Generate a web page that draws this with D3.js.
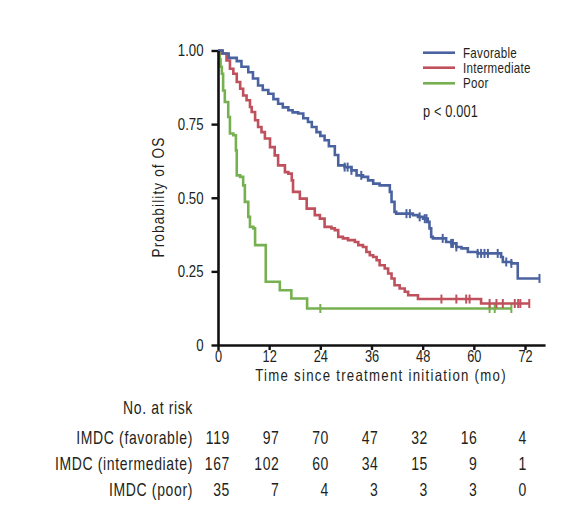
<!DOCTYPE html>
<html>
<head>
<meta charset="utf-8">
<script src="https://cdn.jsdelivr.net/npm/d3@7"></script>
<style>
  html, body { margin: 0; padding: 0; background: #fff; }
  svg { display: block; }
  text { font-family: "Liberation Sans", Arial, sans-serif; fill: #231f20; }
</style>
</head>
<body>
<svg id="chart" width="574" height="516"></svg>
<script>
// ---- Data (months, survival probability) ----
const seriesNames = ["Favorable", "Intermediate", "Poor"];

const favorableSteps = [[0,1],[1.1,0.99],[2.5,0.975],[4.4,0.964],[5.5,0.945],[7.1,0.926],[8.2,0.905],[9.4,0.881],[10.5,0.866],[11.8,0.853],[13,0.835],[14.1,0.819],[15.2,0.807],[16.5,0.797],[17.5,0.79],[18.8,0.786],[20,0.77],[21.1,0.757],[22,0.74],[23.1,0.723],[24,0.71],[25,0.695],[26,0.675],[27.4,0.645],[28.2,0.61],[29.7,0.604],[31.3,0.593],[32.5,0.576],[34,0.571],[35.2,0.559],[36.4,0.548],[37.9,0.542],[40.3,0.52],[40.7,0.486],[41.4,0.452],[41.8,0.446],[45.7,0.441],[46.9,0.435],[48.1,0.429],[49.2,0.418],[49.6,0.396],[50,0.367],[50.4,0.362],[53.5,0.35],[54.7,0.345],[55.9,0.333],[57.1,0.328],[58.6,0.316],[60.9,0.311],[66.4,0.299],[66.8,0.282],[68.8,0.277],[70.3,0.226]];
const favorableEnd = 75.4;
const favorableCensors = [29.7,30.4,31.3,33.6,44.2,45.0,47.3,48.5,48.9,52.7,54.7,55.1,55.9,60.9,61.7,62.5,63.3,65.6,67.6,68.8,75.4];

const intermediateSteps = [[0,1],[0.9,0.99],[2.0,0.966],[2.8,0.938],[3.6,0.921],[4.4,0.893],[5.2,0.870],[5.9,0.847],[6.7,0.831],[7.5,0.808],[7.9,0.791],[8.7,0.763],[9.4,0.740],[10.2,0.723],[11.0,0.701],[12.2,0.672],[13.3,0.644],[14.1,0.61],[15.7,0.587],[16.5,0.582],[17.3,0.559],[17.6,0.52],[19.2,0.497],[20.8,0.463],[22.7,0.441],[23.9,0.429],[25.0,0.401],[26.6,0.396],[27.4,0.39],[28.2,0.367],[29.3,0.362],[30.5,0.356],[32.1,0.35],[32.9,0.339],[34.0,0.333],[34.8,0.316],[35.6,0.305],[36.4,0.299],[37.2,0.288],[37.9,0.271],[39.1,0.26],[39.9,0.243],[40.7,0.226],[41.4,0.203],[42.6,0.192],[43.8,0.181],[44.6,0.169],[46.9,0.156],[61.7,0.141]];
const intermediateEnd = 73.0;
const intermediateCensors = [52.4,55.9,58.2,59.0,63.7,65.3,66.8,69.6,70.4,70.9,73.0];

const poorSteps = [[0,1],[0.4,0.97],[0.6,0.945],[0.9,0.921],[1.2,0.864],[1.6,0.825],[2.4,0.774],[2.8,0.718],[3.6,0.712],[4.2,0.661],[4.4,0.576],[5.2,0.571],[5.9,0.542],[6.3,0.486],[7.1,0.435],[7.5,0.401],[8.3,0.396],[8.7,0.339],[11.2,0.215],[14.5,0.186],[17.2,0.158],[20.9,0.124]];
const poorEnd = 68.8;
const poorCensors = [24.0,63.7,64.9,68.8];

const xTicks = [0,12,24,36,48,60,72];
const yTicks = [0,0.25,0.5,0.75,1];

const riskTimes = [0,12,24,36,48,60,72];
const riskLabels = ["IMDC (favorable)", "IMDC (intermediate)", "IMDC (poor)"];
const riskFavorable = [119,97,70,47,32,16,4];
const riskIntermediate = [167,102,60,34,15,9,1];
const riskPoor = [35,7,4,3,3,3,0];

const colors = ["#4a63a0", "#c0505c", "#76b050"];

// ---- Build ----
const svg = d3.select("#chart");
const x = d3.scaleLinear().domain([0, 72]).range([218, 525]);
const y = d3.scaleLinear().domain([0, 1]).range([345, 50.5]);
const xAxisMax = 76.7;
const SX = 0.8; // condensed look

function ctext(x0, y0, str, size, anchor, ls, rot) {
  const t = svg.append("text")
    .attr("transform", `translate(${x0},${y0})` + (rot ? ` rotate(${rot})` : "") + ` scale(${SX},1)`)
    .attr("text-anchor", anchor || "start")
    .attr("font-size", size)
    .text(str);
  if (ls) t.style("letter-spacing", ls + "px");
  return t;
}

const series = [
  {name: seriesNames[0], steps: favorableSteps, end: favorableEnd, censors: favorableCensors, color: colors[0]},
  {name: seriesNames[1], steps: intermediateSteps, end: intermediateEnd, censors: intermediateCensors, color: colors[1]},
  {name: seriesNames[2], steps: poorSteps, end: poorEnd, censors: poorCensors, color: colors[2]}
];

function survAt(steps, t) {
  let s = 1;
  for (const [tt, v] of steps) { if (tt <= t) s = v; else break; }
  return s;
}

const line = d3.line().x(d => x(d[0])).y(d => y(d[1])).curve(d3.curveStepAfter);

const curveG = svg.append("g");
[2,1,0].forEach(i => {
  const s = series[i];
  const pts = s.steps.concat([[s.end, s.steps[s.steps.length-1][1]]]);
  curveG.append("path")
    .attr("d", line(pts))
    .attr("fill", "none")
    .attr("stroke", s.color)
    .attr("stroke-width", 2.6);
  curveG.selectAll(null).data(s.censors).enter().append("line")
    .attr("x1", d => x(d)).attr("x2", d => x(d))
    .attr("y1", d => y(survAt(s.steps, d)) - 4.5)
    .attr("y2", d => y(survAt(s.steps, d)) + 4.5)
    .attr("stroke", s.color)
    .attr("stroke-width", 2);
});

// axes
const xAxisScale = d3.scaleLinear().domain([0, xAxisMax]).range([x(0), x(xAxisMax)]);
const xAxis = svg.append("g").attr("transform", "translate(0,345)")
  .call(d3.axisBottom(xAxisScale).tickValues(xTicks).tickSize(5).tickPadding(1).tickSizeOuter(0));
const yAxis = svg.append("g").attr("transform", "translate(218,0)")
  .call(d3.axisLeft(y).tickValues(yTicks).tickSize(6.5).tickPadding(8).tickSizeOuter(0)
    .tickFormat(d => d === 0 ? "0" : d.toFixed(2)));
[xAxis, yAxis].forEach(g => {
  g.attr("font-family", null).attr("font-size", null);
  g.select(".domain").attr("stroke", "#111").attr("stroke-width", 2.6);
  g.selectAll(".tick line").attr("stroke", "#111").attr("stroke-width", 2.4);
  g.selectAll(".tick text").attr("font-size", 16.5).attr("fill", "#231f20")
    .attr("transform", `scale(${SX},1)`);
});
xAxis.selectAll(".tick text").attr("font-size", 16);
yAxis.selectAll(".tick text").attr("x", -14.5 / SX);

// axis titles
ctext(381, 381, "Time since treatment initiation (mo)", 16.5, "middle", 1.6);
ctext(163.5, 197, "Probability of OS", 17, "middle", 1.4, -90);

// legend
const legYs = [52.7, 67.7, 83.3];
series.forEach((s, i) => {
  svg.append("line").attr("x1", 423).attr("x2", 455)
    .attr("y1", legYs[i]).attr("y2", legYs[i])
    .attr("stroke", s.color).attr("stroke-width", 2.6);
  ctext(463, legYs[i] + 5, s.name, 14.5, "start", 0.35);
});
ctext(423, 117, "p < 0.001", 16, "start", 0.2);

// risk table
const tx = d3.scaleLinear().domain([0, 72]).range([230, 527]);
ctext(193, 414, "No. at risk", 17.5, "end", 0.8);
const riskRows = [riskFavorable, riskIntermediate, riskPoor];
const rowYs = [444, 470, 496];
riskRows.forEach((row, r) => {
  ctext(193, rowYs[r], riskLabels[r], 17.5, "end", 0.8);
  row.forEach((d, i) => ctext(tx(riskTimes[i]), rowYs[r], String(d), 17.5, "end", 0.8));
});
</script>
</body>
</html>
